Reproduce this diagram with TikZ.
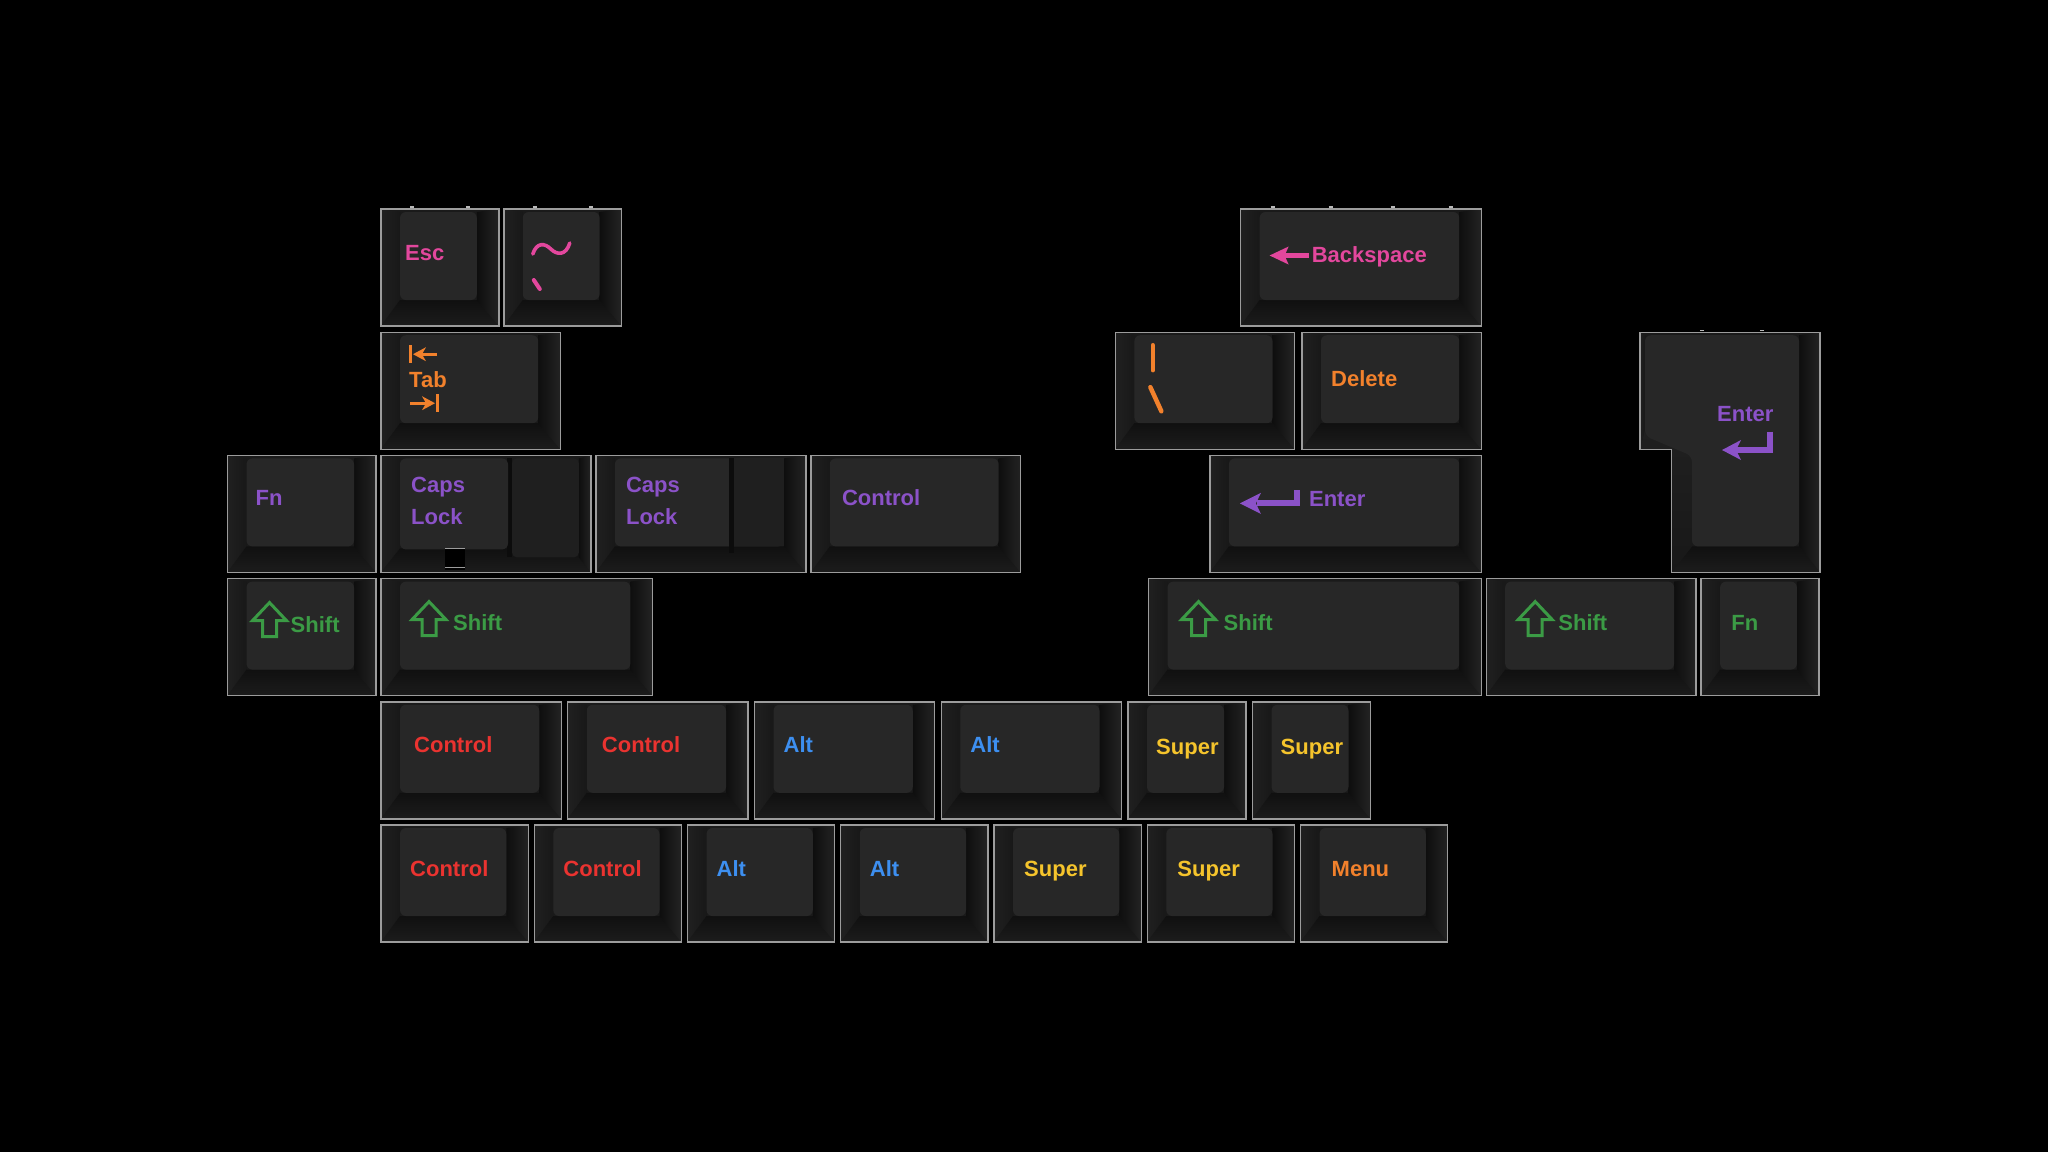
\documentclass[tikz,border=0pt]{standalone}
\usepackage{fontspec}
\setmainfont{Liberation Sans}
\definecolor{cpink}{HTML}{E3479D}
\definecolor{corange}{HTML}{F2812C}
\definecolor{cpurple}{HTML}{8B52C8}
\definecolor{cgreen}{HTML}{3B9B45}
\definecolor{cred}{HTML}{EA3330}
\definecolor{cblue}{HTML}{3D8FF0}
\definecolor{cyellow}{HTML}{F5C42C}
\definecolor{basecol}{HTML}{1A1A1A}
\definecolor{topcol}{HTML}{272727}
\definecolor{edgecol}{HTML}{9C9C9C}
\definecolor{sideA}{HTML}{202020}
\definecolor{sideB}{HTML}{181818}
\definecolor{botA}{HTML}{101010}
\definecolor{botB}{HTML}{1C1C1C}
\definecolor{rA}{HTML}{0E0E0E}
\definecolor{rB}{HTML}{232323}
\definecolor{stepcol}{HTML}{1F1F1F}
\definecolor{groovecol}{HTML}{0C0C0C}
\definecolor{hlcol}{HTML}{B8B8B8}
\tikzset{
  legend/.style={font=\fontsize{22}{26}\selectfont\bfseries, inner sep=0pt, anchor=base west},
  twoline/.style={font=\fontsize{22}{32.3}\selectfont\bfseries, inner sep=0pt, anchor=north west, align=left},
  kbase/.style={fill=basecol},
  ktop/.style={fill=topcol},
  kstep/.style={fill=stepcol},
  kedge/.style={draw=edgecol, line width=1.4pt},
  groove/.style={fill=groovecol},
  hl/.style={draw=hlcol, line width=1.2pt},
  glyph/.style={line width=#1, line cap=round},
  bar/.style={line width=#1},
}
\def\ku{122.8}
\def\kg{5}
\newcommand\setkey[3]{%
  \pgfmathsetmacro\kL{381+(#1)*\ku}%
  \pgfmathsetmacro\kT{209+(#2)*123.2}%
  \pgfmathsetmacro\kW{(#3)*\ku-\kg}%
  \pgfmathsetmacro\kR{\kL+\kW}%
  \pgfmathsetmacro\kB{\kT+117}%
  \pgfmathsetmacro\iL{\kL+19}%
  \pgfmathsetmacro\iR{\kR-22}%
  \pgfmathsetmacro\iT{\kT+3}%
  \pgfmathsetmacro\iB{\kB-26}%
}
\newcommand\drawcap{%
  \fill[kbase] (\kL,\kT) rectangle (\kR,\kB);
  \shade[left color=sideA, right color=sideB] (\kL,\kT) -- (\iL,\iT) -- (\iL,\iB) -- (\kL,\kB) -- cycle;
  \shade[top color=botA, bottom color=botB] (\kL,\kB) -- (\iL,\iB) -- (\iR,\iB) -- (\kR,\kB) -- cycle;
  \shade[left color=rA, right color=rB] (\kR,\kT) -- (\iR,\iT) -- (\iR,\iB) -- (\kR,\kB) -- cycle;
  \fill[ktop, rounded corners=6pt] (\iL,\iT) rectangle (\iR,\iB);
  \draw[kedge] (\kL,\kT) rectangle (\kR,\kB);
}
\newcommand\shiftarrow[2]{%
  \draw[cgreen, line width=3pt, line join=miter] (#1+17,#2) -- (#1+34,#2+18) -- (#1+24,#2+18) -- (#1+24,#2+34) -- (#1+10,#2+34) -- (#1+10,#2+18) -- (#1,#2+18) -- cycle;
}
\begin{document}
\begin{tikzpicture}[x=1pt,y=-1pt]
\fill[black] (0,0) rectangle (2048,1152);
\useasboundingbox (0,0) rectangle (2048,1152);

% ---------- Row 0 ----------
\setkey{0}{0}{1}\drawcap
\draw[hl] (\kL+29,\kT-2) -- ++(4,0) (\kL+85,\kT-2) -- ++(4,0);
\node[legend, text=cpink] (esc) at (\kL+24,\kT+51) {Esc};

\setkey{1}{0}{1}\drawcap
\draw[hl] (\kL+29,\kT-2) -- ++(4,0) (\kL+85,\kT-2) -- ++(4,0);
\draw[cpink, glyph=3.6pt] (\kL+29,\kT+45) .. controls (\kL+33,\kT+33) and (\kL+41,\kT+34) .. (\kL+47,\kT+40) .. controls (\kL+53,\kT+46) and (\kL+62,\kT+47) .. (\kL+66,\kT+34);
\draw[cpink, glyph=4pt] (\kL+30,\kT+71) -- (\kL+36,\kT+80);

\setkey{7}{0}{2}\drawcap
\draw[hl] (\kL+30,\kT-2) -- ++(4,0) (\kL+88,\kT-2) -- ++(4,0) (\kL+150,\kT-2) -- ++(4,0) (\kL+208,\kT-2) -- ++(4,0);
\fill[cpink] (\kL+29,\kT+46.5) -- (\kL+48,\kT+37.5) -- (\kL+44,\kT+46.5) -- (\kL+48,\kT+55.5) -- cycle;
\draw[cpink, bar=5pt] (\kL+43,\kT+46.5) -- (\kL+68,\kT+46.5);
\node[legend, text=cpink] (backspace) at (\kL+71,\kT+53) {Backspace};

% ---------- Row 1 ----------
\setkey{0}{1}{1.5}\drawcap
\draw[corange, bar=3pt] (\kL+29.5,\kT+13) -- (\kL+29.5,\kT+31);
\fill[corange] (\kL+32,\kT+22) -- (\kL+45,\kT+15) -- (\kL+41,\kT+22) -- (\kL+45,\kT+29) -- cycle;
\draw[corange, bar=3pt] (\kL+40,\kT+22) -- (\kL+56,\kT+22);
\node[legend, text=corange] (tab) at (\kL+28,\kT+55) {Tab};
\draw[corange, bar=3pt] (\kL+56.5,\kT+62) -- (\kL+56.5,\kT+80);
\fill[corange] (\kL+54,\kT+71) -- (\kL+41,\kT+64) -- (\kL+45,\kT+71) -- (\kL+41,\kT+78) -- cycle;
\draw[corange, bar=3pt] (\kL+29,\kT+71) -- (\kL+46,\kT+71);

\setkey{5.98}{1}{1.5}\drawcap
\draw[corange, glyph=4.5pt] (\kL+37.5,\kT+13) -- (\kL+37.5,\kT+38);
\draw[corange, glyph=4.5pt] (\kL+35,\kT+55) -- (\kL+46,\kT+79);

\setkey{7.5}{1}{1.5}\drawcap
\node[legend, text=corange] (delete) at (\kL+29,\kT+54) {Delete};

% ISO Enter
\fill[kbase] (1640,332.2) -- (1820,332.2) -- (1820,572.4) -- (1671.5,572.4) -- (1671.5,449.2) -- (1640,449.2) -- cycle;
\shade[left color=rA, right color=rB] (1820,332.2) -- (1799,335.2) -- (1799,546.4) -- (1820,572.4) -- cycle;
\shade[top color=botA, bottom color=botB] (1671.5,572.4) -- (1692,546.4) -- (1799,546.4) -- (1820,572.4) -- cycle;
\shade[left color=sideA, right color=sideB] (1640,332.2) -- (1645,335.2) -- (1645,430) -- (1640,449.2) -- cycle;
\shade[top color=sideA, bottom color=sideB] (1640,449.2) -- (1645,430) -- (1692,452) -- (1692,546.4) -- (1671.5,572.4) -- (1671.5,449.2) -- cycle;
\fill[ktop, rounded corners=6pt] (1645,335.2) -- (1799,335.2) -- (1799,546.4) -- (1692,546.4) -- (1692,456) -- (1645,436) -- cycle;
\draw[kedge] (1640,332.2) -- (1820,332.2) -- (1820,572.4) -- (1671.5,572.4) -- (1671.5,449.2) -- (1640,449.2) -- cycle;
\draw[hl] (1700,330.2) -- ++(4,0) (1760,330.2) -- ++(4,0);
\node[legend, text=cpurple] (isoenter) at (1717,421.7) {Enter};
\draw[cpurple, bar=6pt] (1770,431.7) -- (1770,450) -- (1735,450);
\fill[cpurple] (1722,450) -- (1741,440) -- (1736,450) -- (1741,460) -- cycle;

% ---------- Row 2 ----------
\setkey{-1.25}{2}{1.25}\drawcap
\node[legend, text=cpurple] (fnleft) at (\kL+28,\kT+50) {Fn};

% stepped Caps Lock
\setkey{0}{2}{1.75}
\fill[kbase] (\kL,\kT) rectangle (\kR,\kB);
\shade[left color=sideA, right color=sideB] (\kL,\kT) -- (\iL,\iT) -- (\iL,\kB-24) -- (\kL,\kB) -- cycle;
\shade[top color=botA, bottom color=botB] (\kL,\kB) -- (\iL,\kB-24) -- (\kR-12,\kB-24) -- (\kR,\kB) -- cycle;
\shade[left color=rA, right color=rB] (\kR,\kT) -- (\kR-12,\iT) -- (\kR-12,\kB-15) -- (\kR,\kB) -- cycle;
\fill[groovecol] (\kL+126,\iT) rectangle (\kL+131,\kB-15);
\fill[kstep, rounded corners=5pt] (\kL+131,\iT) rectangle (\kR-12,\kB-15);
\fill[ktop, rounded corners=6pt] (\iL,\iT) rectangle (\kL+127,\kB-23);
\fill[black] (\kL+64,\kB-24) rectangle (\kL+84,\kB-2);
\draw[draw=edgecol, line width=1pt] (\kL+64,\kB-24) -- (\kL+84,\kB-24) (\kL+64,\kB-5) -- (\kL+84,\kB-5);
\draw[kedge] (\kL,\kT) rectangle (\kR,\kB);
\node[twoline, text=cpurple] (capsA) at (\kL+30,\kT+21.3) {Caps\\Lock};

\setkey{1.75}{2}{1.75}\drawcap
\fill[groove] (\kL+133,\iT) rectangle (\kL+138,\kB-19);
\fill[kstep] (\kL+138,\iT) rectangle (\iR,\iB);
\node[twoline, text=cpurple] (capsB) at (\kL+30,\kT+21.3) {Caps\\Lock};

\setkey{3.5}{2}{1.75}\drawcap
\node[legend, text=cpurple] (ctrlmid) at (\kL+31,\kT+50) {Control};

\setkey{6.75}{2}{2.25}\drawcap
\draw[cpurple, bar=6pt] (\kL+87,\kT+34.6) -- (\kL+87,\kT+48) -- (\kL+47,\kT+48);
\fill[cpurple] (\kL+30,\kT+48) -- (\kL+51,\kT+37.5) -- (\kL+46,\kT+48) -- (\kL+51,\kT+58.5) -- cycle;
\node[legend, text=cpurple] (enter) at (\kL+99,\kT+51.3) {Enter};

% ---------- Row 3 ----------
\setkey{-1.25}{3}{1.25}\drawcap
\shiftarrow{\kL+25}{\kT+24}
\node[legend, text=cgreen] (shiftA) at (\kL+63,\kT+54) {Shift};

\setkey{0}{3}{2.25}\drawcap
\shiftarrow{\kL+31}{\kT+23}
\node[legend, text=cgreen] (shiftB) at (\kL+72,\kT+52) {Shift};

\setkey{6.25}{3}{2.75}\drawcap
\shiftarrow{\kL+33}{\kT+23}
\node[legend, text=cgreen] (shiftC) at (\kL+75,\kT+52) {Shift};

\setkey{9}{3}{1.75}\drawcap
\shiftarrow{\kL+32}{\kT+23}
\node[legend, text=cgreen] (shiftD) at (\kL+72,\kT+52) {Shift};

\setkey{10.75}{3}{1}\drawcap
\node[legend, text=cgreen] (fnright) at (\kL+30,\kT+52) {Fn};

% ---------- Row 4 ----------
\def\ku{124.5}\def\kg{6.5}
\setkey{0}{4}{1.5}\drawcap
\node[legend, text=cred] (ctrlA) at (\kL+33,\kT+51) {Control};
\setkey{1.5}{4}{1.5}\drawcap
\node[legend, text=cred] (ctrlB) at (\kL+34,\kT+51) {Control};
\setkey{3}{4}{1.5}\drawcap
\node[legend, text=cblue] (altA) at (\kL+29,\kT+51) {Alt};
\setkey{4.5}{4}{1.5}\drawcap
\node[legend, text=cblue] (altB) at (\kL+29,\kT+51) {Alt};
\setkey{6}{4}{1}\drawcap
\node[legend, text=cyellow] (superA) at (\kL+28,\kT+53) {Super};
\setkey{7}{4}{1}\drawcap
\node[legend, text=cyellow] (superB) at (\kL+28,\kT+53) {Super};

% ---------- Row 5 ----------
\def\ku{122.6}\def\kg{6}
\setkey{0}{5}{1.25}\drawcap
\node[legend, text=cred] (ctrlC) at (\kL+29,\kT+51) {Control};
\setkey{1.25}{5}{1.25}\drawcap
\node[legend, text=cred] (ctrlD) at (\kL+29,\kT+51) {Control};
\setkey{2.5}{5}{1.25}\drawcap
\node[legend, text=cblue] (altC) at (\kL+29,\kT+51) {Alt};
\setkey{3.75}{5}{1.25}\drawcap
\node[legend, text=cblue] (altD) at (\kL+29,\kT+51) {Alt};
\setkey{5}{5}{1.25}\drawcap
\node[legend, text=cyellow] (superC) at (\kL+30,\kT+51) {Super};
\setkey{6.25}{5}{1.25}\drawcap
\node[legend, text=cyellow] (superD) at (\kL+30,\kT+51) {Super};
\setkey{7.5}{5}{1.25}\drawcap
\node[legend, text=corange] (menu) at (\kL+31,\kT+51) {Menu};
\end{tikzpicture}
\end{document}
